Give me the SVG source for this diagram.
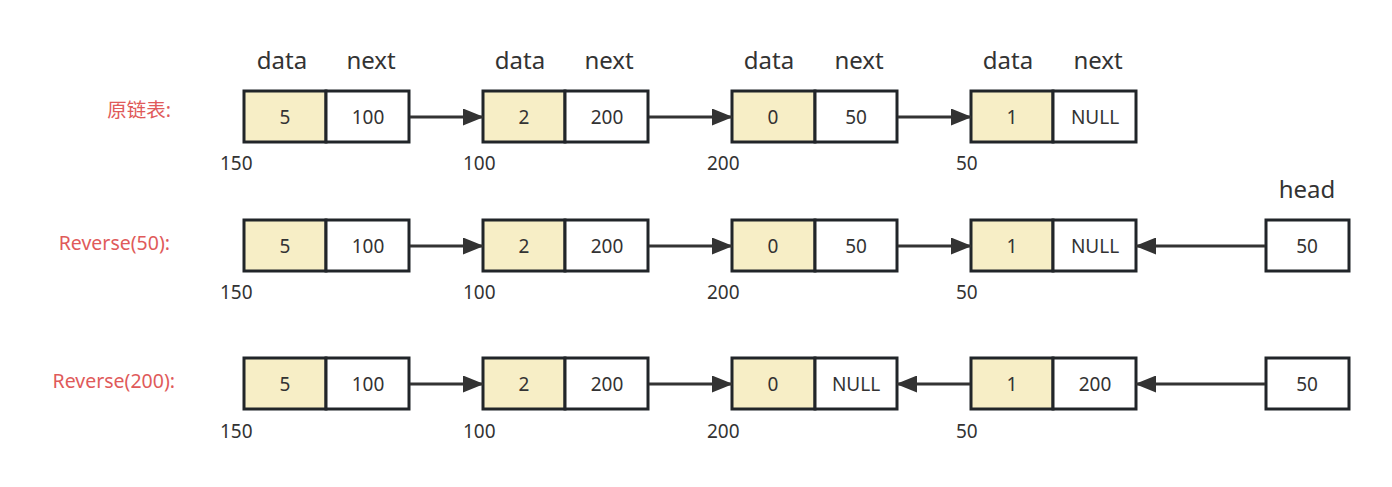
<svg xmlns="http://www.w3.org/2000/svg" width="1392" height="487" viewBox="0 0 1392 487">
  <style>
    .cell { stroke: #212529; stroke-width: 3; }
    .data { fill: #f7eec6; }
    .next { fill: #ffffff; }
    .val { font-family: "Noto Sans", "Liberation Sans", sans-serif; font-size: 19px; fill: #333333; text-anchor: middle; dominant-baseline: central; }
    .hdr { font-family: "Noto Sans", "Liberation Sans", sans-serif; font-size: 24px; fill: #333333; text-anchor: middle; dominant-baseline: central; }
    .addr { font-family: "Noto Sans", "Liberation Sans", sans-serif; font-size: 19px; fill: #333333; dominant-baseline: central; }
    .title { font-family: "Noto Sans", "Noto Sans CJK SC", "Liberation Sans", sans-serif; font-size: 19.5px; fill: #e05a5a; text-anchor: end; dominant-baseline: central; }
    .link { stroke: #333333; stroke-width: 3; fill: none; marker-end: url(#tip); }
  </style>
  <defs>
    <marker id="tip" viewBox="0 0 21 17" refX="20" refY="8.5" markerWidth="21" markerHeight="17" markerUnits="userSpaceOnUse" orient="auto">
      <path d="M0 0 L21 8.5 L0 17 Z" fill="#333333"/>
    </marker>
  </defs>

  <!-- field headers -->
  <g id="headers">
    <text class="hdr" x="282" y="59">data</text>
    <text class="hdr" x="371" y="59">next</text>
    <text class="hdr" x="520" y="59">data</text>
    <text class="hdr" x="609" y="59">next</text>
    <text class="hdr" x="769" y="59">data</text>
    <text class="hdr" x="859" y="59">next</text>
    <text class="hdr" x="1008" y="59">data</text>
    <text class="hdr" x="1098" y="59">next</text>
    <text class="hdr" x="1307" y="188">head</text>
  </g>

  <!-- row titles -->
  <g id="titles">
    <text class="title" x="171" y="109">原链表:</text>
    <text class="title" x="170" y="242">Reverse(50):</text>
    <text class="title" x="175" y="380">Reverse(200):</text>
  </g>

  <!-- row 1: original list -->
  <g id="r1n1">
    <rect class="cell data" x="244" y="91" width="82" height="51"/>
    <rect class="cell next" x="326" y="91" width="83" height="51"/>
    <text class="val" x="285" y="117">5</text>
    <text class="val" x="368" y="117">100</text>
    <text class="addr" x="220" y="163">150</text>
  </g>
  <g id="r1n2">
    <rect class="cell data" x="483" y="91" width="82" height="51"/>
    <rect class="cell next" x="565" y="91" width="83" height="51"/>
    <text class="val" x="524" y="117">2</text>
    <text class="val" x="607" y="117">200</text>
    <text class="addr" x="463" y="163">100</text>
  </g>
  <g id="r1n3">
    <rect class="cell data" x="732" y="91" width="83" height="51"/>
    <rect class="cell next" x="815" y="91" width="82" height="51"/>
    <text class="val" x="773" y="117">0</text>
    <text class="val" x="856" y="117">50</text>
    <text class="addr" x="707" y="163">200</text>
  </g>
  <g id="r1n4">
    <rect class="cell data" x="971" y="91" width="82" height="51"/>
    <rect class="cell next" x="1053" y="91" width="83" height="51"/>
    <text class="val" x="1012" y="117">1</text>
    <text class="val" x="1095" y="117">NULL</text>
    <text class="addr" x="956" y="163">50</text>
  </g>

  <!-- row 2: Reverse(50) -->
  <g id="r2n1">
    <rect class="cell data" x="244" y="220" width="82" height="51"/>
    <rect class="cell next" x="326" y="220" width="83" height="51"/>
    <text class="val" x="285" y="246">5</text>
    <text class="val" x="368" y="246">100</text>
    <text class="addr" x="220" y="292">150</text>
  </g>
  <g id="r2n2">
    <rect class="cell data" x="483" y="220" width="82" height="51"/>
    <rect class="cell next" x="565" y="220" width="83" height="51"/>
    <text class="val" x="524" y="246">2</text>
    <text class="val" x="607" y="246">200</text>
    <text class="addr" x="463" y="292">100</text>
  </g>
  <g id="r2n3">
    <rect class="cell data" x="732" y="220" width="83" height="51"/>
    <rect class="cell next" x="815" y="220" width="82" height="51"/>
    <text class="val" x="773" y="246">0</text>
    <text class="val" x="856" y="246">50</text>
    <text class="addr" x="707" y="292">200</text>
  </g>
  <g id="r2n4">
    <rect class="cell data" x="971" y="220" width="82" height="51"/>
    <rect class="cell next" x="1053" y="220" width="83" height="51"/>
    <text class="val" x="1012" y="246">1</text>
    <text class="val" x="1095" y="246">NULL</text>
    <text class="addr" x="956" y="292">50</text>
  </g>
  <g id="r2head">
    <rect class="cell next" x="1266" y="220" width="83" height="51"/>
    <text class="val" x="1307" y="246">50</text>
  </g>

  <!-- row 3: Reverse(200) -->
  <g id="r3n1">
    <rect class="cell data" x="244" y="358" width="82" height="51"/>
    <rect class="cell next" x="326" y="358" width="83" height="51"/>
    <text class="val" x="285" y="384">5</text>
    <text class="val" x="368" y="384">100</text>
    <text class="addr" x="220" y="431">150</text>
  </g>
  <g id="r3n2">
    <rect class="cell data" x="483" y="358" width="82" height="51"/>
    <rect class="cell next" x="565" y="358" width="83" height="51"/>
    <text class="val" x="524" y="384">2</text>
    <text class="val" x="607" y="384">200</text>
    <text class="addr" x="463" y="431">100</text>
  </g>
  <g id="r3n3">
    <rect class="cell data" x="732" y="358" width="83" height="51"/>
    <rect class="cell next" x="815" y="358" width="82" height="51"/>
    <text class="val" x="773" y="384">0</text>
    <text class="val" x="856" y="384">NULL</text>
    <text class="addr" x="707" y="431">200</text>
  </g>
  <g id="r3n4">
    <rect class="cell data" x="971" y="358" width="82" height="51"/>
    <rect class="cell next" x="1053" y="358" width="83" height="51"/>
    <text class="val" x="1012" y="384">1</text>
    <text class="val" x="1095" y="384">200</text>
    <text class="addr" x="956" y="431">50</text>
  </g>
  <g id="r3head">
    <rect class="cell next" x="1266" y="358" width="83" height="51"/>
    <text class="val" x="1307" y="384">50</text>
  </g>

  <!-- pointer links -->
  <g id="links">
    <line class="link" x1="410" y1="117" x2="483" y2="117"/>
    <line class="link" x1="649" y1="117" x2="732" y2="117"/>
    <line class="link" x1="898" y1="117" x2="971" y2="117"/>

    <line class="link" x1="410" y1="246" x2="483" y2="246"/>
    <line class="link" x1="649" y1="246" x2="732" y2="246"/>
    <line class="link" x1="898" y1="246" x2="971" y2="246"/>
    <line class="link" x1="1265" y1="246" x2="1136" y2="246"/>

    <line class="link" x1="410" y1="384" x2="483" y2="384"/>
    <line class="link" x1="649" y1="384" x2="732" y2="384"/>
    <line class="link" x1="970" y1="384" x2="897" y2="384"/>
    <line class="link" x1="1265" y1="384" x2="1136" y2="384"/>
  </g>
</svg>
